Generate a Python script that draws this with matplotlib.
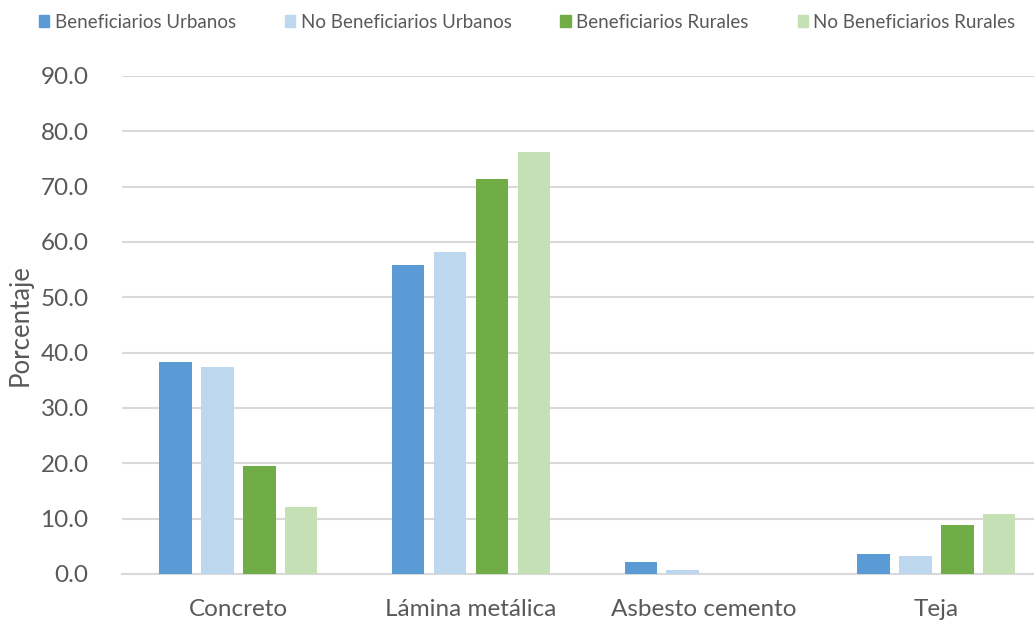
import numpy as np
import matplotlib.pyplot as plt
from matplotlib.patches import Patch

categorias = ["Concreto", "Lámina metálica", "Asbesto cemento", "Teja"]
series = ["Beneficiarios Urbanos", "No Beneficiarios Urbanos",
          "Beneficiarios Rurales", "No Beneficiarios Rurales"]
benef_urbanos = [38.3, 55.8, 2.2, 3.6]
no_benef_urbanos = [37.4, 58.2, 0.8, 3.3]
benef_rurales = [19.6, 71.3, 0.0, 8.9]
no_benef_rurales = [12.1, 76.3, 0.0, 10.8]
colores = ["#5B9BD5", "#BDD7EE", "#70AD47", "#C5E0B4"]

plt.rcParams["font.family"] = ["Lato", "DejaVu Sans"]
gris = "#595959"

fig = plt.figure(figsize=(10.34, 6.24), dpi=100)
ax = fig.add_axes([122 / 1034, 50 / 624, 912 / 1034, 498 / 624])

x = np.arange(len(categorias))
paso = 0.18
ancho = 0.14
valores = [benef_urbanos, no_benef_urbanos, benef_rurales, no_benef_rurales]
for i, (vals, col) in enumerate(zip(valores, colores)):
    ax.bar(x + (i - 1.5) * paso, vals, width=ancho, color=col, zorder=3)

ax.set_xlim(-0.5, 3.42)
ax.set_ylim(0, 90)
ax.set_yticks(np.arange(0, 91, 10))
ax.set_yticklabels([f"{v:.1f}" for v in np.arange(0, 91, 10)])
ax.set_xticks(x)
ax.set_xticklabels(categorias)
ax.yaxis.grid(True, color="#d9d9d9", linewidth=1.5, zorder=0)
ax.tick_params(axis="y", length=0, labelsize=17.5, colors=gris, pad=24)
ax.tick_params(axis="x", length=0, labelsize=17.5, colors=gris, pad=18)
for s in ["top", "right", "left"]:
    ax.spines[s].set_visible(False)
ax.spines["bottom"].set_color("#d9d9d9")
ax.spines["bottom"].set_linewidth(1.5)
ax.set_ylabel("Porcentaje", fontsize=18.5, color=gris, labelpad=6)

handles = [Patch(color=c, label=s) for c, s in zip(colores, series)]
fig.legend(handles=handles, loc="upper center", bbox_to_anchor=(0.51, 1.005),
           ncol=4, frameon=False, fontsize=13.5, handlelength=0.55,
           handleheight=0.55, handletextpad=0.3, columnspacing=2.6,
           labelcolor=gris)

fig.savefig("out.png", dpi=100)
